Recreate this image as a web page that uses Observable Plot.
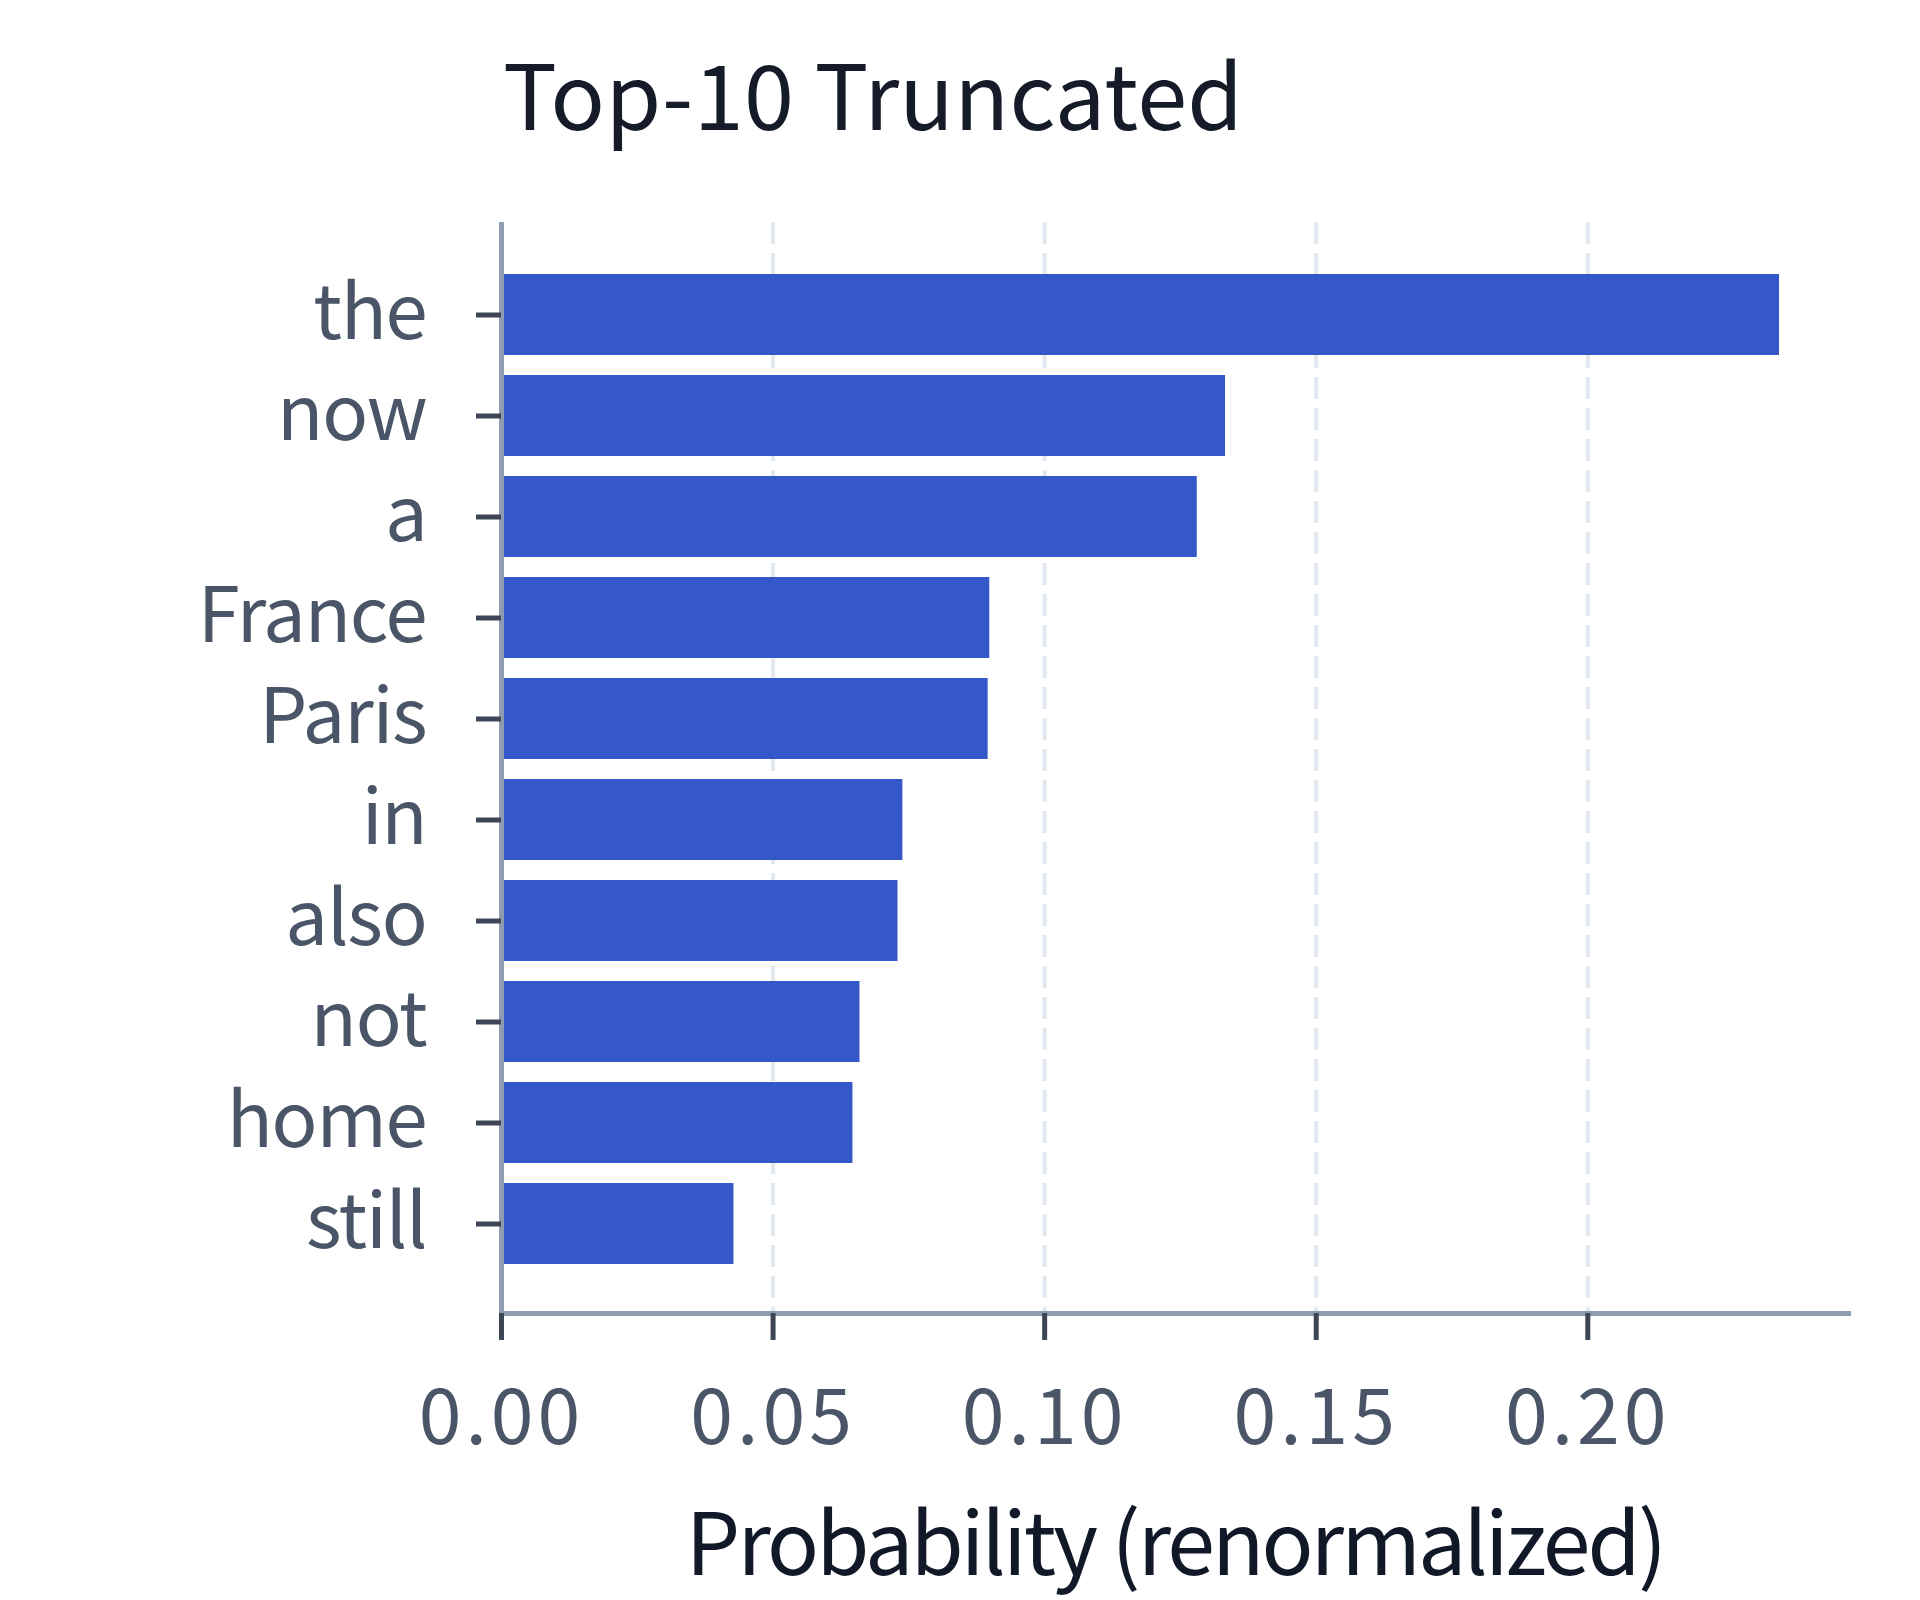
<!DOCTYPE html>
<html>
<head>
<meta charset="utf-8">
<script src="https://cdn.jsdelivr.net/npm/d3@7"></script>
<script src="https://cdn.jsdelivr.net/npm/@observablehq/plot@0.6"></script>
<style>
  html, body { margin: 0; padding: 0; background: #ffffff; }
  #wrap { width: 1920px; }
  #title {
    height: 180px; box-sizing: border-box;
    padding-top: 46px; padding-left: 503px;
    font-family: "Noto Sans CJK KR", "Noto Sans", sans-serif;
    font-size: 90px; line-height: 90px; color: #151b28; font-weight: 400;
    white-space: nowrap; letter-spacing: 0.3px;
  }
  #chart svg { display: block; }
  #chart svg g[aria-label="x-axis tick label"] text { letter-spacing: 4px; }
  #chart svg g[aria-label="y-axis tick label"] text { letter-spacing: -1.2px; }
  #chart svg g[aria-label="text"] text { letter-spacing: -2.9px; }
</style>
</head>
<body>
<div id="wrap">
  <div id="title">Top-10 Truncated</div>
  <div id="chart"></div>
</div>
<script>
const tokens = ["the", "now", "a", "France", "Paris", "in", "also", "not", "home", "still"];
const probs = [0.2353, 0.1333, 0.1281, 0.0899, 0.0896, 0.0739, 0.0730, 0.0660, 0.0647, 0.0428];
const xTicks = [0, 0.05, 0.10, 0.15, 0.20];
const xLabel = "Probability (renormalized)";

const data = tokens.map((t, i) => ({token: t, p: probs[i]}));

const plot = Plot.plot({
  width: 1920,
  height: 1420,
  marginTop: 42,
  marginBottom: 287,
  marginLeft: 501,
  marginRight: 72,
  style: {fontFamily: "'Noto Sans CJK KR', 'Noto Sans', sans-serif", background: "#ffffff"},
  x: {domain: [0, 0.248]},
  y: {domain: tokens, paddingInner: 0.2, paddingOuter: 0, insetTop: 50, insetBottom: 47},
  marks: [
    Plot.gridX(xTicks.slice(1), {stroke: "#e2e8f0", strokeOpacity: 1, strokeWidth: 4, strokeDasharray: "22,9"}),
    Plot.barX(data, {x: "p", y: "token", fill: "#3558c8", insetLeft: 2}),
    Plot.ruleX([0], {stroke: "#8e9cb0", strokeWidth: 5}),
    Plot.frame({anchor: "bottom", stroke: "#8e9cb0", strokeWidth: 5}),
    Plot.axisX({
      ticks: xTicks, tickFormat: d3.format(".2f"), tickSize: 27, tickPadding: 49,
      fontSize: 77, stroke: "#3d4656", strokeWidth: 5, strokeOpacity: 1, fill: "#4a5568", label: null
    }),
    Plot.axisY({
      tickSize: 25, tickPadding: 50, fontSize: 76,
      stroke: "#3d4656", strokeWidth: 5, strokeOpacity: 1, fill: "#4a5568", label: null
    }),
    Plot.text([xLabel], {text: d => d, frameAnchor: "bottom", dy: 261, fontSize: 86, fill: "#111827"})
  ]
});
document.getElementById("chart").appendChild(plot);
</script>
</body>
</html>
